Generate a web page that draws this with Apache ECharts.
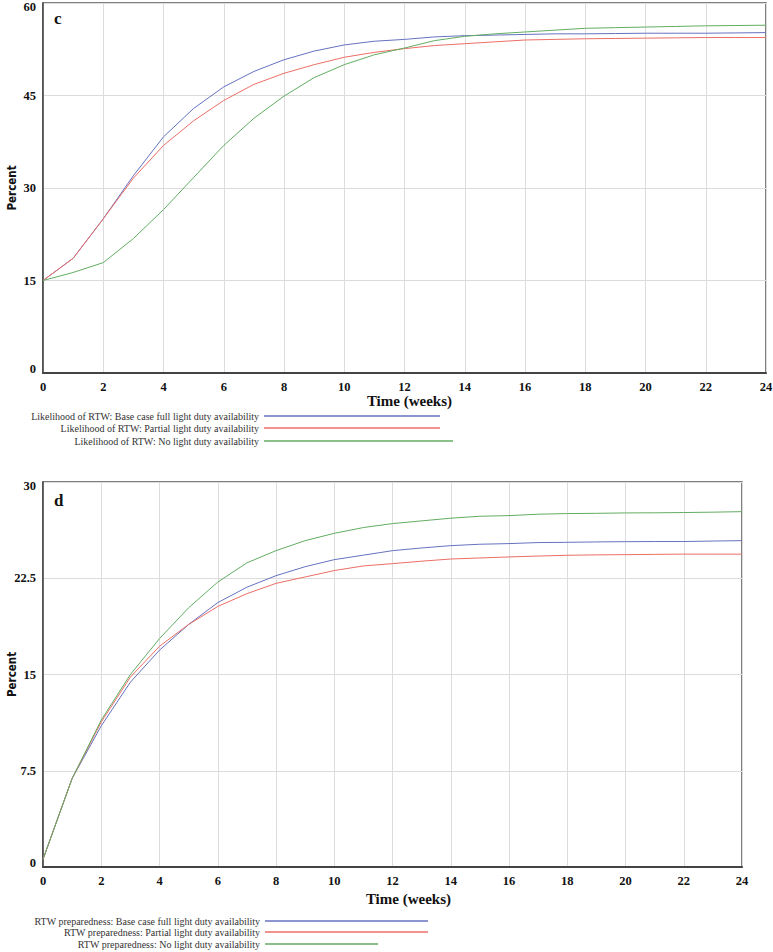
<!DOCTYPE html>
<html>
<head>
<meta charset="utf-8">
<script src="https://cdn.jsdelivr.net/npm/echarts@6/dist/echarts.min.js"></script>
<style>
html,body{margin:0;padding:0;background:#fff;}
#chart{width:773px;height:952px;}
</style>
</head>
<body>
<div id="chart"></div>
<script>
var weeks = [0,1,2,3,4,5,6,7,8,9,10,11,12,13,14,15,16,17,18,19,20,21,22,23,24];
var xTicks = [0,2,4,6,8,10,12,14,16,18,20,22,24];

var namesC = [
  'Likelihood of RTW: Base case full light duty availability',
  'Likelihood of RTW: Partial light duty availability',
  'Likelihood of RTW: No light duty availability'
];
var baseC    = [15,18.6,25,32,38.3,42.9,46.4,48.9,50.8,52.2,53.2,53.8,54.1,54.5,54.7,54.8,54.9,55.0,55.0,55.05,55.1,55.1,55.1,55.15,55.2];
var partialC = [15,18.6,25,31.6,36.9,40.9,44.2,46.8,48.6,50.0,51.2,52.0,52.6,53.1,53.4,53.7,54.0,54.1,54.2,54.25,54.3,54.35,54.4,54.4,54.4];
var noneC    = [15,16.3,17.9,21.8,26.5,31.7,36.9,41.3,44.9,47.9,50.0,51.6,52.7,53.9,54.6,55.0,55.3,55.6,55.9,56.0,56.1,56.2,56.3,56.35,56.4];
var yTicksC  = [0,15,30,45,60];

var namesD = [
  'RTW preparedness: Base case full light duty availability',
  'RTW preparedness: Partial light duty availability',
  'RTW preparedness: No light duty availability'
];
var baseD    = [0.6,6.9,11.0,14.4,16.9,18.9,20.6,21.8,22.7,23.4,23.95,24.3,24.65,24.86,25.04,25.15,25.2,25.28,25.3,25.33,25.35,25.36,25.36,25.4,25.43];
var partialD = [0.6,6.9,11.3,14.8,17.2,18.9,20.3,21.3,22.1,22.6,23.1,23.46,23.64,23.83,24.0,24.08,24.16,24.23,24.29,24.32,24.34,24.36,24.38,24.38,24.38];
var noneD    = [0.6,6.9,11.45,15.0,17.8,20.2,22.2,23.7,24.65,25.43,26.0,26.45,26.76,26.97,27.18,27.33,27.38,27.49,27.54,27.56,27.59,27.6,27.62,27.65,27.69];
var yTicksD  = [0,7.5,15,22.5,30];

var colors = ['#6672c0', '#ec6e66', '#62ad62'];

function pairs(vals){ return weeks.map(function(w,i){ return [w, vals[i]]; }); }

var chart = echarts.init(document.getElementById('chart'), null, {renderer:'svg'});

var tickFont = {fontFamily:'Liberation Serif', fontWeight:'bold', fontSize:12.5, color:'#111'};

function xAxisDef(gi){
  return {
    type:'value', gridIndex:gi, min:0, max:24, interval:2,
    axisLine:{show:true, lineStyle:{color:'#444', width:2}},
    axisTick:{show:false},
    axisLabel:Object.assign({margin:7}, tickFont),
    splitLine:{show:true, lineStyle:{color:'#dcdcdc', width:1}}
  };
}
function yAxisDef(gi, ticks){
  var max = ticks[ticks.length-1];
  return {
    type:'value', gridIndex:gi, min:ticks[0], max:max, interval:ticks[1]-ticks[0],
    name:'Percent', nameLocation:'middle', nameGap:25, nameMoveOverlap:false,
    nameTextStyle:{fontFamily:"'DejaVu Sans Condensed', 'Liberation Sans'", fontWeight:'bold', fontSize:11.5, color:'#111'},
    axisLine:{show:true, lineStyle:{color:'#444', width:1.5}},
    axisTick:{show:false},
    axisLabel:Object.assign({
      margin:7,
      formatter:function(v){
        if (v === max) return '{mx|' + v + '}';
        if (v === 0) return '{mn|0}';
        return String(v);
      },
      rich:{
        mx:Object.assign({padding:[8,0,0,0]}, tickFont),
        mn:Object.assign({padding:[0,0,8,0]}, tickFont)
      }
    }, tickFont),
    splitLine:{show:true, lineStyle:{color:'#dcdcdc', width:1}}
  };
}

function legendDef(name, color, lineEnd, width, centerY){
  return {
    data:[name], orient:'vertical', align:'right',
    right: 773 - lineEnd, top: centerY - 6, padding:0,
    itemWidth: width, itemHeight: 1.5, icon:'rect',
    selectedMode:false,
    textStyle:{fontFamily:'Liberation Serif', fontSize:10, color:'#333'}
  };
}

function seriesDef(name, vals, color, gi){
  return {
    type:'line', name:name, xAxisIndex:gi, yAxisIndex:gi,
    data:pairs(vals), symbol:'none', smooth:false,
    lineStyle:{color:color, width:1}, itemStyle:{color:color},
    animation:false
  };
}

var option = {
  animation:false,
  backgroundColor:'#fff',
  grid:[
    {left:43, right:7, top:3, bottom:579, show:true, borderColor:'#555', borderWidth:1.5, containLabel:false, outerBoundsMode:'none'},
    {left:43, right:31, top:482, bottom:85, show:true, borderColor:'#555', borderWidth:1.5, containLabel:false, outerBoundsMode:'none'}
  ],
  xAxis:[xAxisDef(0), xAxisDef(1)],
  yAxis:[yAxisDef(0, yTicksC), yAxisDef(1, yTicksD)],
  title:[
    {text:'c', left:54, top:10, padding:0, textStyle:{fontFamily:'Liberation Serif', fontWeight:'bold', fontSize:17, color:'#111'}},
    {text:'d', left:54, top:492, padding:0, textStyle:{fontFamily:'Liberation Serif', fontWeight:'bold', fontSize:17, color:'#111'}},
    {text:'Time (weeks)', right:773-452, top:393, padding:0, textStyle:{fontFamily:'Liberation Serif', fontWeight:'bold', fontSize:15, color:'#111'}},
    {text:'Time (weeks)', right:773-451, top:891, padding:0, textStyle:{fontFamily:'Liberation Serif', fontWeight:'bold', fontSize:15, color:'#111'}}
  ],
  legend:[
    legendDef(namesC[0], colors[0], 440, 176, 417),
    legendDef(namesC[1], colors[1], 440, 176, 429),
    legendDef(namesC[2], colors[2], 453, 189, 442),
    legendDef(namesD[0], colors[0], 428, 163, 922),
    legendDef(namesD[1], colors[1], 428, 163, 933),
    legendDef(namesD[2], colors[2], 378, 113, 945)
  ],
  series:[
    seriesDef(namesC[0], baseC, colors[0], 0),
    seriesDef(namesC[1], partialC, colors[1], 0),
    seriesDef(namesC[2], noneC, colors[2], 0),
    seriesDef(namesD[0], baseD, colors[0], 1),
    seriesDef(namesD[1], partialD, colors[1], 1),
    seriesDef(namesD[2], noneD, colors[2], 1)
  ]
};
chart.setOption(option);
</script>
</body>
</html>
